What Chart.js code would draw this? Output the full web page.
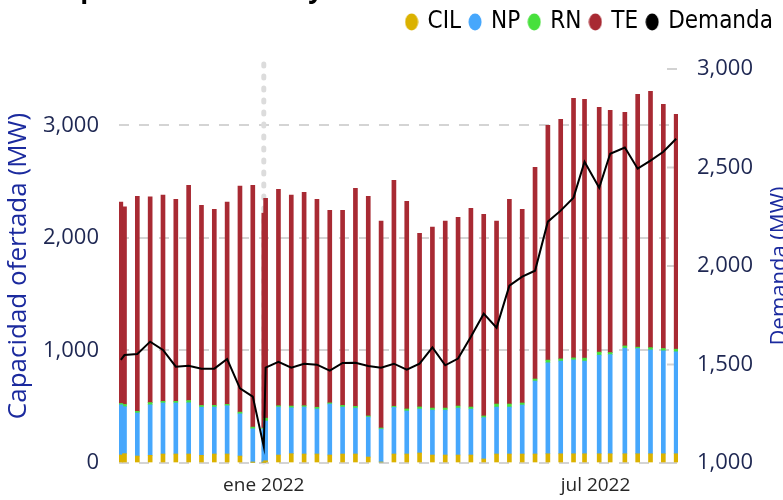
<!DOCTYPE html>
<html lang="es">
<head>
<meta charset="utf-8">
<title>Capacidad ofertada y demanda</title>
<script src="https://cdn.jsdelivr.net/npm/chart.js@4.4.1/dist/chart.umd.min.js"></script>
<style>
  html, body { margin: 0; padding: 0; background: #fff; }
  #wrap { width: 783px; height: 500px; }
</style>
</head>
<body>
<div id="wrap"><canvas id="grafico" width="783" height="500"></canvas></div>
<script>
// semanas (fecha de cada barra)
const fechas = [
  '2021-10-15', '2021-10-17', '2021-10-24', '2021-10-31', '2021-11-07', '2021-11-14',
  '2021-11-21', '2021-11-28', '2021-12-05', '2021-12-12', '2021-12-19', '2021-12-26',
  '2022-01-01', '2022-01-02', '2022-01-09', '2022-01-16', '2022-01-23', '2022-01-30',
  '2022-02-06', '2022-02-13', '2022-02-20', '2022-02-27', '2022-03-06', '2022-03-13',
  '2022-03-20', '2022-03-27', '2022-04-03', '2022-04-10', '2022-04-17', '2022-04-24',
  '2022-05-01', '2022-05-08', '2022-05-15', '2022-05-22', '2022-05-29', '2022-06-05',
  '2022-06-12', '2022-06-19', '2022-06-25', '2022-07-03', '2022-07-09', '2022-07-17',
  '2022-07-24', '2022-07-31', '2022-08-07', '2022-08-14'
];

// capacidad ofertada por tecnología (MW)
const cil = [71, 83, 62, 68, 80, 80, 80, 68, 80, 80, 62, 5, 5, 20, 71, 83, 80, 80, 71, 80, 80, 53, 8, 80,
  80, 89, 71, 71, 71, 71, 36, 80, 80, 80, 80, 82, 82, 82, 82, 82, 82, 82, 82, 82, 82, 82];
const np = [446, 417, 382, 449, 453, 453, 455, 428, 417, 429, 375, 299, 297, 353, 426, 408, 417, 400, 453, 417, 408, 355, 293, 414,
  382, 391, 399, 399, 417, 408, 367, 417, 417, 435, 648, 808, 823, 834, 823, 876, 881, 938, 935, 923, 915, 906];
const rn = [12, 20, 15, 20, 15, 15, 20, 15, 15, 12, 15, 15, 8, 25, 12, 15, 12, 15, 10, 15, 15, 10, 10, 10,
  18, 18, 18, 18, 18, 18, 15, 27, 27, 18, 18, 24, 20, 18, 27, 27, 18, 20, 12, 20, 20, 23];
const te = [1788, 1755, 1911, 1827, 1831, 1795, 1912, 1779, 1742, 1796, 2007, 2148, 1911, 1954, 1923, 1873, 1896, 1848, 1711, 1733, 1938, 1952, 1837, 2008,
  1845, 1543, 1607, 1660, 1677, 1766, 1792, 1624, 1819, 1721, 1881, 2086, 2128, 2306, 2299, 2175, 2152, 2075, 2246, 2277, 2169, 2087];

// demanda (MW), eje derecho
const demanda = [1523, 1548, 1553, 1616, 1574, 1489, 1494, 1479, 1479, 1528, 1379, 1337, 1083, 1484, 1514, 1484, 1504, 1499, 1469, 1508, 1509, 1492, 1484, 1504,
  1474, 1504, 1587, 1496, 1530, 1641, 1758, 1687, 1900, 1946, 1976, 2225, 2281, 2347, 2529, 2397, 2570, 2601, 2494, 2535, 2580, 2646];

const ticksFechas = ['2022-01-01', '2022-07-01'];
const ticksEtiquetas = ['ene 2022', 'jul 2022'];
const ticksCapacidad = [0, 1000, 2000, 3000];
const fechaMarcada = '2022-01-01';

const colores = ['#dbb200', '#46a7fc', '#47e03c', '#a82a33', '#000000'];

// días respecto al 1 de enero de 2022
const dia = s => (Date.parse(s) - Date.parse('2022-01-01')) / 86400000;

function ovalo(color) {
  const c = document.createElement('canvas');
  c.width = 14; c.height = 18;
  const g = c.getContext('2d');
  g.fillStyle = color;
  g.beginPath();
  g.ellipse(7, 9, 6.5, 8.5, 0, 0, Math.PI * 2);
  g.fill();
  return c;
}

function barras(label, valores, color) {
  return {
    type: 'bar',
    label,
    data: fechas.map((f, i) => ({ x: dia(f), y: valores[i] })),
    backgroundColor: color,
    barThickness: 4,
    yAxisID: 'y',
    order: 1
  };
}

const extras = {
  id: 'extras',
  afterInit(chart) {
    // la leyenda ocupa toda la franja superior, hasta el área del gráfico
    const lg = chart.legend;
    const fit = lg.fit;
    lg.fit = function () {
      fit.call(this);
      this.height = 69;
    };
  },
  beforeDatasetsDraw(chart) {
    const { ctx, chartArea: a, scales } = chart;
    ctx.save();
    // marcas del eje derecho
    ctx.strokeStyle = '#d2d2d2';
    ctx.lineWidth = 2;
    scales.y2.ticks.forEach(t => {
      const y = scales.y2.getPixelForValue(t.value);
      ctx.beginPath();
      ctx.moveTo(a.right - 11, y);
      ctx.lineTo(a.right - 1, y);
      ctx.stroke();
    });
    // línea punteada vertical
    const x = scales.x.getPixelForValue(dia(fechaMarcada));
    ctx.strokeStyle = '#dcdcdc';
    ctx.lineWidth = 5;
    ctx.lineCap = 'round';
    ctx.setLineDash([2, 10]);
    ctx.beginPath();
    ctx.moveTo(x, a.top - 5);
    ctx.lineTo(x, a.bottom);
    ctx.stroke();
    ctx.restore();
  },
  afterDraw(chart) {
    const { ctx, chartArea: a } = chart;
    ctx.save();
    // título (cortado en la parte superior)
    ctx.fillStyle = '#000';
    ctx.font = 'bold 26px "Open Sans"';
    ctx.textBaseline = 'alphabetic';
    ctx.fillText('Capacidad ofertada y demanda', 48, -2);
    // título del eje derecho (cortado en el borde)
    ctx.fillStyle = '#1b2a9e';
    ctx.font = '22px "Open Sans"';
    ctx.translate(786, (a.top + a.bottom) / 2);
    ctx.rotate(-Math.PI / 2);
    ctx.textAlign = 'center';
    ctx.fillText('Demanda (MW)', 0, 0);
    ctx.restore();
  }
};

Chart.defaults.font.family = "'Open Sans', sans-serif";

new Chart(document.getElementById('grafico'), {
  data: {
    datasets: [
      barras('CIL', cil, colores[0]),
      barras('NP', np, colores[1]),
      barras('RN', rn, colores[2]),
      barras('TE', te, colores[3]),
      {
        type: 'line',
        label: 'Demanda',
        data: fechas.map((f, i) => ({ x: dia(f), y: demanda[i] })),
        borderColor: '#000',
        backgroundColor: '#000',
        borderWidth: 2,
        pointRadius: 0,
        tension: 0,
        yAxisID: 'y2',
        order: 0
      }
    ]
  },
  options: {
    responsive: false,
    animation: false,
    devicePixelRatio: 1,
    locale: 'en-US',
    layout: { padding: 0 },
    plugins: {
      tooltip: { enabled: false },
      legend: {
        position: 'top',
        align: 'end',
        labels: {
          usePointStyle: true,
          pointStyleWidth: 8,
          padding: 10,
          color: '#000',
          font: { family: "'DejaVu Sans Condensed', 'DejaVu Sans', sans-serif", weight: 'normal condensed', size: 24 },
          generateLabels(chart) {
            return Chart.defaults.plugins.legend.labels.generateLabels(chart)
              .sort((p, q) => p.datasetIndex - q.datasetIndex)
              .map(it => ({ ...it, pointStyle: ovalo(colores[it.datasetIndex]) }));
          }
        }
      }
    },
    scales: {
      x: {
        type: 'linear',
        stacked: true,
        offset: false,
        min: -79,
        max: 226,
        grid: { display: false, drawTicks: false },
        border: { display: false },
        afterBuildTicks(scale) {
          scale.ticks = ticksFechas.map(f => ({ value: dia(f) }));
        },
        afterFit(scale) {
          scale.height = 37;
          scale.paddingLeft = 0;
          scale.paddingRight = 0;
        },
        ticks: {
          padding: 11,
          color: '#262626',
          font: { size: 19 },
          maxRotation: 0,
          autoSkip: false,
          callback: (v) => ticksEtiquetas[ticksFechas.findIndex(f => dia(f) === v)]
        }
      },
      y: {
        position: 'left',
        stacked: true,
        min: 0,
        max: 3500,
        afterBuildTicks(scale) {
          scale.ticks = ticksCapacidad.map(v => ({ value: v }));
        },
        afterFit(scale) {
          scale.width = 119;
        },
        grid: { color: '#d4d4d4', lineWidth: 2, drawTicks: false },
        border: { display: false, dash: [10, 10] },
        ticks: { padding: 20, color: '#1e2752', font: { size: 22 } },
        title: {
          display: true,
          text: 'Capacidad ofertada (MW)',
          color: '#1b2a9e',
          font: { size: 26 },
          padding: { top: 3, bottom: 0 }
        }
      },
      y2: {
        position: 'right',
        min: 1000,
        max: 3000,
        afterFit(scale) {
          scale.width = 105;
        },
        grid: { display: false, drawTicks: false },
        border: { display: false },
        ticks: { stepSize: 500, padding: 19, color: '#1e2752', font: { size: 22 } }
      }
    }
  },
  plugins: [extras]
});
</script>
</body>
</html>
